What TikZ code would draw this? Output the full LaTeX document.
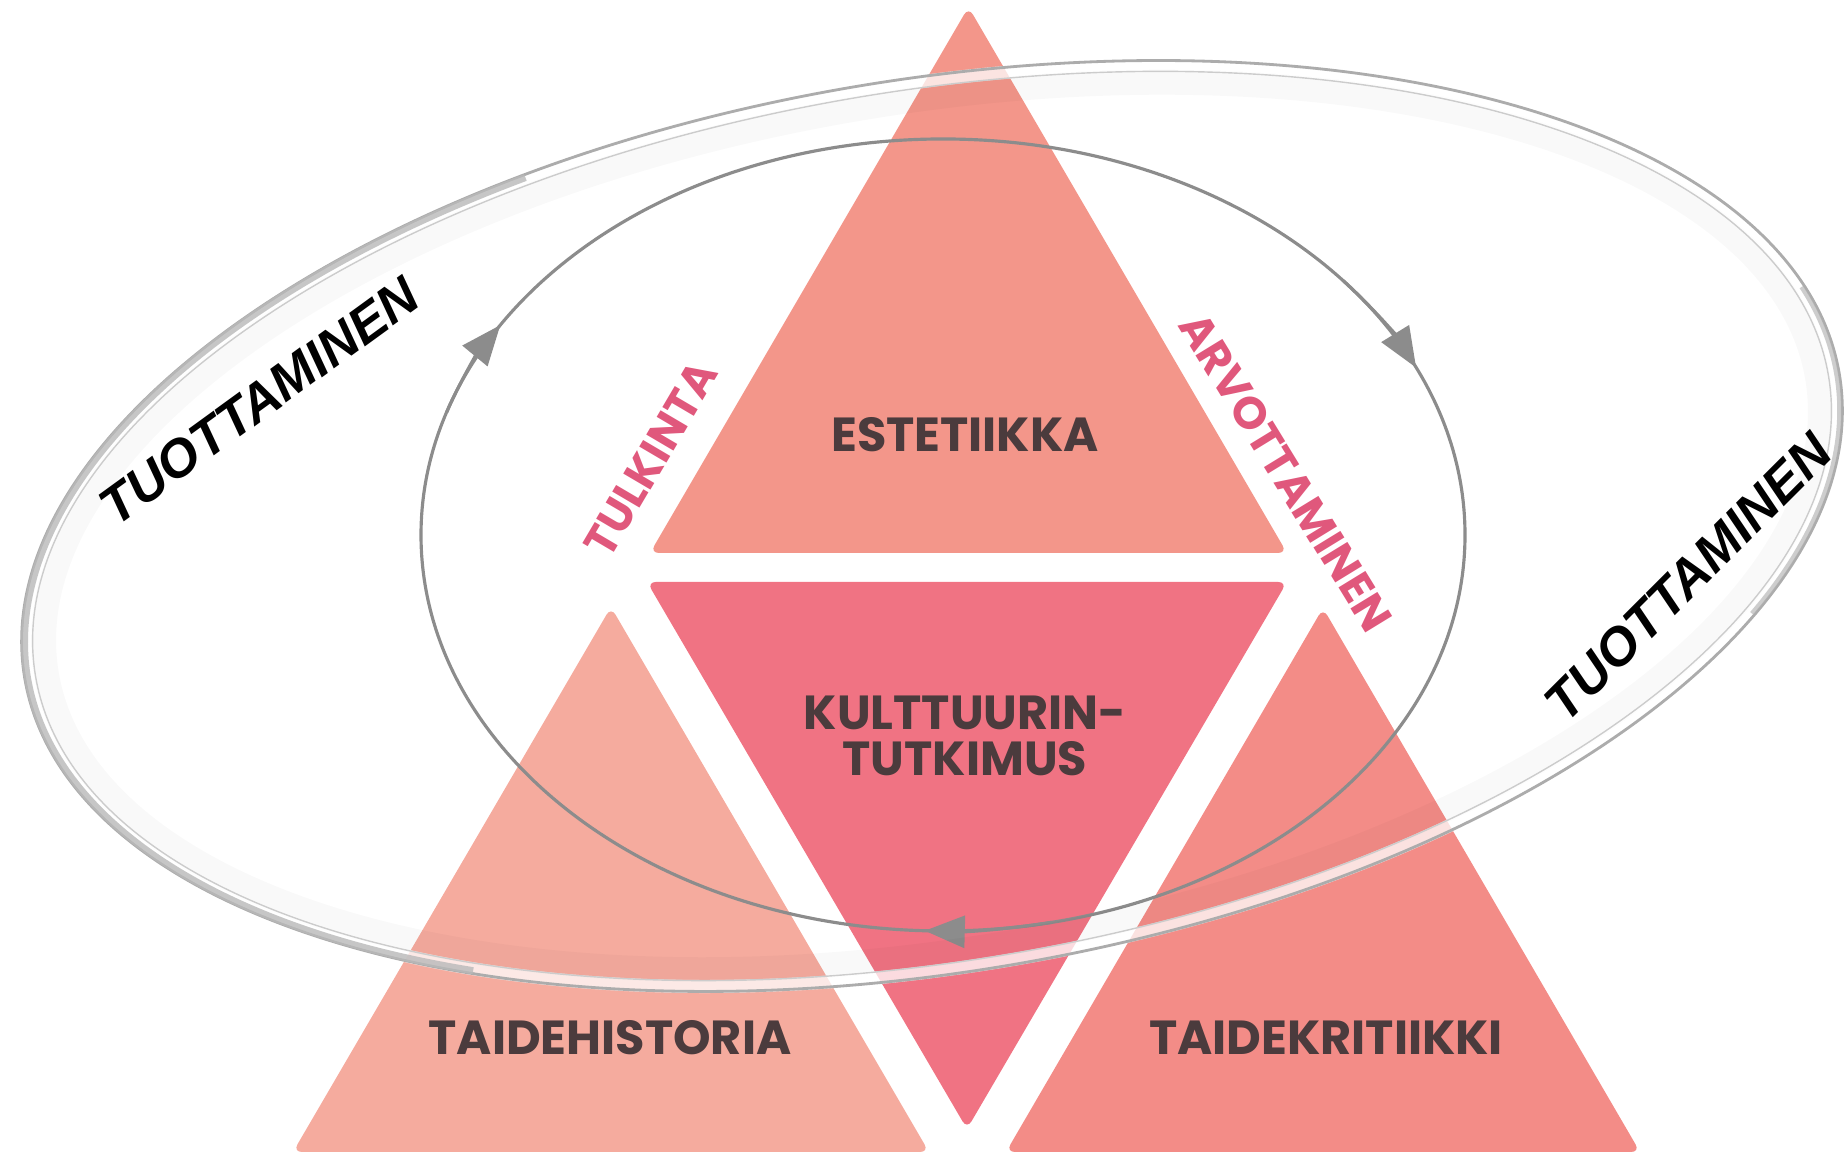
\documentclass[tikz,border=0pt]{standalone}
\usepackage{fontspec}
\usepackage{tikz}
\usetikzlibrary{arrows.meta,calc}
\newfontfamily\kolmiofont{Poppins}
\newfontfamily\kehafont{Liberation Sans}
\definecolor{ylakolmio}{HTML}{F3968A}
\definecolor{keskikolmio}{HTML}{F07383}
\definecolor{vasenkolmio}{HTML}{F5AB9E}
\definecolor{oikeakolmio}{HTML}{F38C87}
\definecolor{tekstiharmaa}{HTML}{4B3B3D}
\definecolor{kehapinkki}{HTML}{E0587C}
\definecolor{kiertoharmaa}{HTML}{8C8C8C}

\begin{document}
\begin{tikzpicture}[
  pala/.style={rounded corners=2.5pt},
  otsikko/.style={font=\kolmiofont\bfseries\fontsize{13.6}{13.3}\selectfont, text=tekstiharmaa, align=center},
  sivuteksti/.style={font=\kolmiofont\bfseries\fontsize{12.8}{14}\selectfont, text=kehapinkki},
  kiertoteksti/.style={font=\kehafont\bfseries\itshape\fontsize{15}{18}\selectfont, text=black},
  kierto/.style={draw=kiertoharmaa, line width=0.9pt},
  nuoli/.style={kierto, -{Triangle[length=0.4cm,width=0.32cm]}, fill=kiertoharmaa}
]
  \useasboundingbox (0,0) rectangle (18.45,11.56);

  % Triangles
  \fill[pala, ylakolmio] (9.685,11.49) -- (6.50,6.03) -- (12.87,6.03) -- cycle;
  \fill[pala, keskikolmio] (6.47,5.74) -- (12.87,5.74) -- (9.67,0.27) -- cycle;
  \fill[pala, vasenkolmio] (6.11,5.49) -- (2.93,0.04) -- (9.29,0.04) -- cycle;
  \fill[pala, oikeakolmio] (13.23,5.48) -- (10.06,0.04) -- (16.40,0.04) -- cycle;

  % Inner cycle with arrows
  \coordinate (kp) at (9.43,6.21);
  \draw[kierto] (kp) ellipse [x radius=5.22, y radius=3.96];
  \draw[nuoli] ([shift={(162:5.22 and 3.96)}]kp) arc [start angle=162, end angle=148, x radius=5.22, y radius=3.96];
  \draw[nuoli] ([shift={(40:5.22 and 3.96)}]kp) arc [start angle=40, end angle=25, x radius=5.22, y radius=3.96];
  \draw[nuoli] ([shift={(282:5.22 and 3.96)}]kp) arc [start angle=282, end angle=268, x radius=5.22, y radius=3.96];

  % Labels
  \node[otsikko] (estetiikka) at (9.65,7.21) {ESTETIIKKA};
  \node[otsikko] (kulttuuri) at (9.65,4.2) {KULTTUURIN-\\TUTKIMUS};
  \node[otsikko] (historia) at (6.10,1.18) {TAIDEHISTORIA};
  \node[otsikko] (kritiikki) at (13.26,1.18) {TAIDEKRITIIKKI};
  \node[sivuteksti, rotate=59.5] (tulkinta) at (6.51,6.97) {TULKINTA};
  \node[sivuteksti, rotate=-58.5] (arvottaminen) at (12.86,6.84) {ARVOTTAMINEN};

  % Glass ring
  \begin{scope}[shift={(9.32,6.30)}, rotate=9.5]
    \draw[line width=0.25cm, black, opacity=0.025] (0,0) ellipse [x radius=8.98, y radius=4.24];
    \draw[line width=0.13cm, white, opacity=0.75] (0,0) ellipse [x radius=9.15, y radius=4.41];
    \draw[line width=0.8pt, gray!65] (0,0) ellipse [x radius=9.20, y radius=4.46];
    \draw[line width=0.4pt, gray!40] (0,0) ellipse [x radius=9.09, y radius=4.35];
    \draw[line width=2pt, gray!55, opacity=0.8] (112:9.17 and 4.43) arc [start angle=112, end angle=235, x radius=9.17, y radius=4.43];
    \draw[line width=1.2pt, gray!55, opacity=0.7] (330:9.17 and 4.43) arc [start angle=330, end angle=372, x radius=9.17, y radius=4.43];
  \end{scope}

  \node[kiertoteksti, rotate=36] (tuotvasen) at (2.59,7.55) {TUOTTAMINEN};
  \node[kiertoteksti, rotate=45] (tuotoikea) at (16.88,5.79) {TUOTTAMINEN};
\end{tikzpicture}
\end{document}
